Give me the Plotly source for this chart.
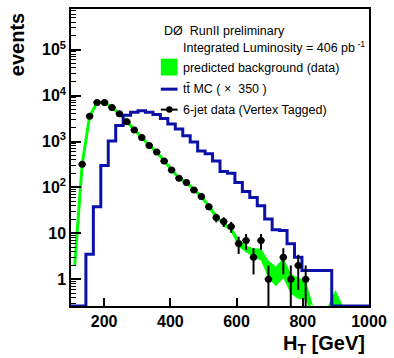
import numpy as np
import plotly.graph_objects as go

# ---------------- data ----------------
x_min, x_max = 100.0, 1000.0
n_bins = 40
bin_width = (x_max - x_min) / n_bins  # 22.5 GeV
edges = x_min + bin_width * np.arange(n_bins + 1)
centers = edges[:-1] + bin_width / 2

# 6-jet data (Vertex Tagged), per bin (None = empty bin)
data_counts = [None, 318, 3550, 7100, 7100, 5530, 4040, 2680, 1780, 1230,
               822, 590, 377, 240, 158, 128, 88, 63, 38, 22,
               18, 14, 6, 7, 3, 7, 1, None, 3, 1,
               2, 1, None, None, None, None, None, None, None, None]

# predicted background (data) and its uncertainty band
bg_pred = [2, 318, 3550, 7100, 7100, 5530, 4040, 2680, 1780, 1230,
           822, 590, 377, 240, 158, 128, 90, 63, 39, 23,
           15.8, 12.3, 6.3, 4.6, 3.85, 3.6, 1.8, 1.3, 2.0, 0.9,
           0.72, 0.65, 0.1, 0, 0, 0.4, 0, 0, 0, 0]
bg_err = [0.1, 10, 90, 150, 150, 120, 90, 60, 40, 30,
          20, 15, 10, 7, 5, 4, 3.5, 2.8, 2, 1.5,
          1.2, 1.2, 1.3, 0.75, 0.85, 1.05, 0.75, 0.6, 0.95, 0.42,
          0.35, 0.3, 0.1, 0, 0, 0.18, 0, 0, 0, 0]

# ttbar MC (x 350)
tt_mc = [0, 0, 3.5, 38, 300, 1020, 2220, 3750, 4360, 4690,
         4360, 3860, 3160, 2410, 1880, 1330, 980, 620, 540, 377,
         221, 204, 128, 81, 60, 40, 20.6, 11.9, 11.5, 5.9,
         3.0, 1.55, 1.55, 1.55, 1.55, 0, 0, 0, 0, 0]

x_ticks = [200, 400, 600, 800, 1000]
x_ticktext = ["200", "400", "600", "800", "1000"]
y_ticks = [1, 10, 100, 1000, 1e4, 1e5]
y_ticktext = ["1", "10", "10<sup>2</sup>", "10<sup>3</sup>", "10<sup>4</sup>", "10<sup>5</sup>"]

# ---------------- style ----------------
y_lo, y_hi = -0.584, 5.887
y_floor = 10 ** y_lo
GREEN = "#00ff00"
BLUE = "#0a10a8"
FONT = "Liberation Sans"

bg = np.array(bg_pred, dtype=float)
err = np.array(bg_err, dtype=float)
upper = np.maximum(bg + err, y_floor)
lower = np.maximum(bg - err, y_floor)

fig = go.Figure()

# background band
fig.add_trace(go.Scatter(
    x=np.concatenate([centers, centers[::-1]]),
    y=np.concatenate([upper, lower[::-1]]),
    fill="toself", fillcolor=GREEN, mode="lines",
    line=dict(width=0, color=GREEN), hoverinfo="skip"))
# background central line
fig.add_trace(go.Scatter(
    x=centers, y=[v if v > 0 else None for v in bg_pred],
    mode="lines", line=dict(color=GREEN, width=3), hoverinfo="skip"))

# ttbar MC histogram
mc_y = [max(v, y_floor) for v in tt_mc]
fig.add_trace(go.Scatter(
    x=list(edges), y=mc_y + [mc_y[-1]],
    mode="lines", line=dict(color=BLUE, width=3, shape="hv")))

# data
d_err = [np.sqrt(v) if v is not None else None for v in data_counts]
fig.add_trace(go.Scatter(
    x=centers, y=data_counts, mode="markers",
    marker=dict(symbol="circle", size=7, color="black"),
    error_y=dict(type="data", array=d_err, color="black", thickness=2, width=0),
    error_x=dict(type="constant", value=bin_width / 2, color="black", thickness=2, width=0)))

# ---------------- layout ----------------
L, R, T, B = 71, 21, 7, 52
W, H = 394, 358
pw, ph = W - L - R, H - T - B

def px(x):
    return (x - L) / pw

def py(y):
    return (H - B - y) / ph

minor_vals = [m * 10 ** d for d in range(-1, 6) for m in range(2, 10)]

fig.update_layout(
    width=W, height=H, margin=dict(l=L, r=R, t=T, b=B),
    plot_bgcolor="white", paper_bgcolor="white", showlegend=False,
    font=dict(family=FONT, color="black"),
    xaxis=dict(range=[x_min, x_max], tickvals=x_ticks, ticktext=x_ticktext,
               ticks="inside", ticklen=8, tickwidth=1.5, tickcolor="black",
               showgrid=False, zeroline=False, showline=True, linecolor="black",
               linewidth=1.5, mirror=True,
               tickfont=dict(family=FONT, size=16, color="black", weight="bold")),
    yaxis=dict(type="log", range=[y_lo, y_hi], tickvals=y_ticks, ticktext=y_ticktext,
               ticks="inside", ticklen=10, tickwidth=1.5, tickcolor="black",
               minor=dict(tickvals=minor_vals, ticks="inside", ticklen=5, tickwidth=1,
                          tickcolor="black", showgrid=False),
               showgrid=False, zeroline=False, showline=True, linecolor="black",
               linewidth=1.5, mirror=True,
               tickfont=dict(family=FONT, size=16, color="black", weight="bold")),
)

# legend symbols
fig.add_shape(type="rect", xref="paper", yref="paper",
              x0=px(162), x1=px(179), y0=py(74), y1=py(57),
              fillcolor=GREEN, line=dict(width=0))
fig.add_shape(type="line", xref="paper", yref="paper",
              x0=px(162), x1=px(179), y0=py(87.7), y1=py(87.7),
              line=dict(color=BLUE, width=3))
fig.add_shape(type="line", xref="paper", yref="paper",
              x0=px(162), x1=px(179), y0=py(108.3), y1=py(108.3),
              line=dict(color="black", width=2))
fig.add_shape(type="circle", xref="paper", yref="paper",
              x0=px(167.5), x1=px(174), y0=py(111.5), y1=py(105),
              fillcolor="black", line=dict(width=0))

texts = [
    ("D\u00d8  RunII preliminary", 163, 29),
    ("Integrated Luminosity = 406 pb<sup> -1</sup>", 182, 45),
    ("predicted background (data)", 182, 66.7),
    ("tt\u0304 MC ( \u00d7  350 )", 182, 87.5),
    ("6-jet data (Vertex Tagged)", 182, 108.3),
]
for t, x, y in texts:
    fig.add_annotation(text=t, xref="paper", yref="paper", x=px(x), y=py(y),
                       xanchor="left", yanchor="middle", showarrow=False,
                       font=dict(family=FONT, size=12.5, color="black"))

fig.add_annotation(text="events", xref="paper", yref="paper", x=px(17), y=py(9),
                   xanchor="center", yanchor="top", textangle=-90, showarrow=False,
                   font=dict(family=FONT, size=20, color="black", weight="bold"))
fig.add_annotation(text="H<sub>T</sub> [GeV]", xref="paper", yref="paper",
                   x=px(371), y=py(345), xanchor="right", yanchor="middle",
                   showarrow=False,
                   font=dict(family=FONT, size=20, color="black", weight="bold"))

fig.write_html("out.html", config={"displayModeBar": False},
               post_script="document.body.style.margin='0px';document.body.style.overflow='hidden';")
